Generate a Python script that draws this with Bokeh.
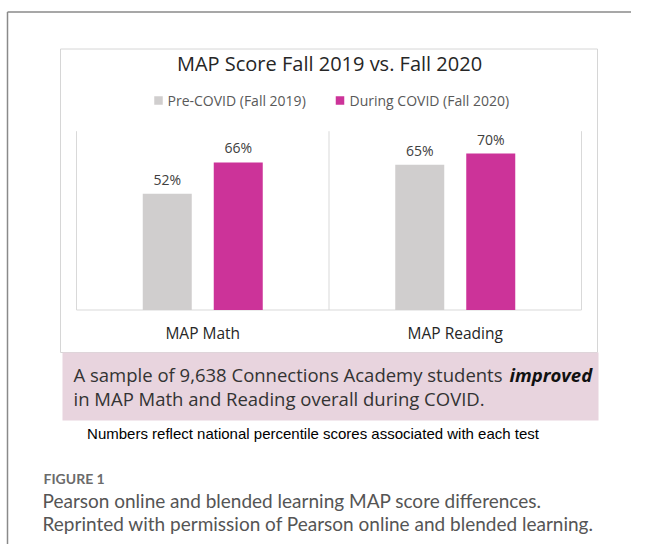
from bokeh.plotting import figure
from bokeh.models import Range1d, ColumnDataSource
from bokeh.core.properties import value
from bokeh.embed import file_html
from bokeh.resources import INLINE
from bokeh.transform import dodge

# ---------------- data ----------------
categories = ["MAP Math", "MAP Reading"]
series_names = ["Pre-COVID (Fall 2019)", "During COVID (Fall 2020)"]
pre_covid = [52, 65]
during_covid = [66, 70]
chart_title = "MAP Score Fall 2019 vs. Fall 2020"
note_text = "A sample of 9,638 Connections Academy students "
note_bold = "improved"
note_line2 = "in MAP Math and Reading overall during COVID."
footnote = "Numbers reflect national percentile scores associated with each test"
fig_label = "FIGURE 1"
caption_lines = [
    "Pearson online and blended learning MAP score differences.",
    "Reprinted with permission of Pearson online and blended learning.",
]

# ---------------- layout (picture pixels) ----------------
W, H = 631, 544
OX, OY = 0, 0
PLOT_L, PLOT_R = 76, 581
BASE_Y, TOP_Y, Y_MAX = 309.5, 130.7, 80
GRAY = "#d0cece"
PINK = "#cc3399"

unit = (PLOT_R - PLOT_L) / len(categories)
yscale = (BASE_Y - TOP_Y) / Y_MAX

p = figure(width=W, height=H, output_backend="svg", toolbar_location=None,
           x_range=Range1d((OX - PLOT_L) / unit, (OX + W - PLOT_L) / unit),
           y_range=Range1d(-(OY + H - BASE_Y) / yscale, (BASE_Y - OY) / yscale),
           x_axis_location=None, y_axis_location=None, min_border=0)
p.extra_x_ranges = {"px": Range1d(OX, OX + W)}
p.extra_y_ranges = {"px": Range1d(OY + H, OY)}
p.grid.visible = False
p.outline_line_color = None
p.background_fill_color = "white"
p.border_fill_color = "white"

PX = dict(x_range_name="px", y_range_name="px")

# outer figure frame
p.segment(x0=[7, 7], y0=[11.5, 11.5], x1=[OX + W, 7], y1=[11.5, OY + H],
          line_color="#8a8a8a", line_width=1.5, **PX)
# chart image box
p.quad(left=[60], right=[597], top=[48.5], bottom=[352], fill_color="white",
       line_color="#d6d6d6", line_width=1, **PX)
# pink note box
p.quad(left=[62], right=[598], top=[352], bottom=[420], fill_color="#e8d4de",
       line_color=None, **PX)

# ---------------- bars through scales ----------------
xs = [i + 0.5 for i in range(len(categories))]
src = ColumnDataSource(dict(x=xs, cat=categories, pre=pre_covid, dur=during_covid,
                            pre_lbl=[f"{v}%" for v in pre_covid],
                            dur_lbl=[f"{v}%" for v in during_covid]))
off = 35.5 / unit
bw = 49 / unit

bounds = list(range(len(categories) + 1))
p.segment(x0=bounds, y0=[0] * len(bounds), x1=bounds, y1=[Y_MAX] * len(bounds),
          line_color="#d9d9d9", line_width=1)
p.segment(x0=[0], y0=[0], x1=[len(categories)], y1=[0], line_color="#d9d9d9", line_width=1)

p.vbar(x=dodge("x", -off), top="pre", width=bw, bottom=0, source=src,
       fill_color=GRAY, line_color=None)
p.vbar(x=dodge("x", off), top="dur", width=bw, bottom=0, source=src,
       fill_color=PINK, line_color=None)

lbl = dict(text_font=value("Open Sans"), text_font_size="14px", text_color="#404040",
           text_align="center", text_baseline="middle", y_offset=-14.5)
p.text(x=dodge("x", -off), y="pre", text="pre_lbl", source=src, **lbl)
p.text(x=dodge("x", off), y="dur", text="dur_lbl", source=src, **lbl)

p.text(x="x", y=0, text="cat", source=src, y_offset=22.5,
       text_font=value("Open Sans"), text_font_size="15.5px", text_color="#262626",
       text_align="center", text_baseline="middle")

# ---------------- title & legend ----------------
p.text(x=[329], y=[63], text=[chart_title], text_font=value("Open Sans"),
       text_font_size="20px", text_color="#262626", text_align="center",
       text_baseline="middle", **PX)

p.scatter(x=[158, 339.5], y=[100, 100], marker="square", size=8.5,
          fill_color=[GRAY, PINK], line_color=None, **PX)
p.text(x=[167, 349], y=[100, 100], text=series_names, text_font=value("Open Sans"),
       text_font_size="14px", text_color="#595959", text_align="left",
       text_baseline="middle", **PX)

# ---------------- note ----------------
p.text(x=[73], y=[374], text=[note_text], text_font=value("Open Sans"),
       text_font_size="18.5px", text_color="#333333", text_baseline="middle", **PX)
p.text(x=[509], y=[374], text=[note_bold], text_font=value("Open Sans"),
       text_font_size="18.5px", text_font_style="bold italic", text_color="#111111",
       text_baseline="middle", **PX)
p.text(x=[73], y=[398], text=[note_line2], text_font=value("Open Sans"),
       text_font_size="18.5px", text_color="#333333", text_baseline="middle", **PX)

p.text(x=[312.5], y=[433], text=[footnote], text_font=value("Liberation Sans"),
       text_font_size="15px", text_color="#000000", text_align="center",
       text_baseline="middle", **PX)

# ---------------- caption ----------------
p.text(x=[43], y=[478], text=[fig_label], text_font=value("Lato"),
       text_font_size="14px", text_font_style="bold", text_color="#6b6b6b",
       text_baseline="middle", **PX)
p.text(x=[42, 42], y=[500, 523], text=caption_lines, text_font=value("Lato"),
       text_font_size="19px", text_color="#555555", text_baseline="middle", **PX)

open("out.html", "w").write(file_html(p, INLINE))
